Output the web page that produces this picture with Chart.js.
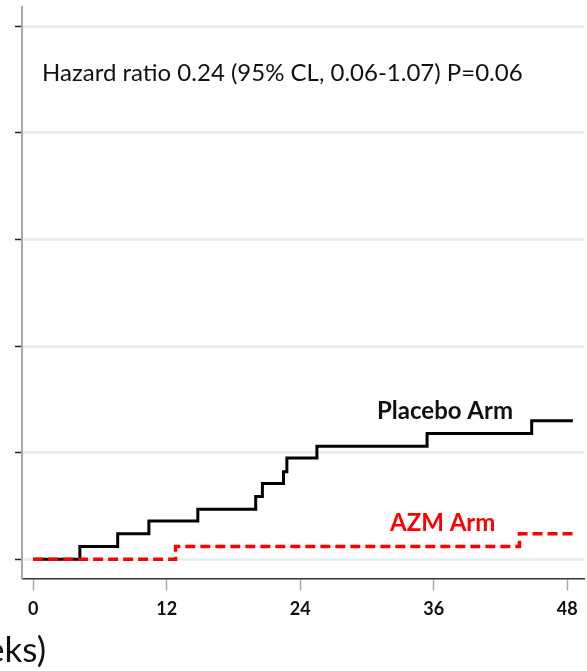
<!DOCTYPE html>
<html>
<head>
<meta charset="utf-8">
<script src="https://cdn.jsdelivr.net/npm/chart.js@4"></script>
<style>
  html, body { margin: 0; padding: 0; background: #fff; }
  canvas { display: block; }
</style>
</head>
<body>
<canvas id="kmChart" width="587" height="671"></canvas>
<script>
// weeks where each arm's curve steps up, and the cumulative proportion after the step
const placeboWeeks = [0, 4.2, 7.6, 10.4, 14.8, 20.0, 20.6, 22.5, 22.8, 25.5, 35.4, 44.8, 48.5];
const placeboRisk = [0, 0.012, 0.024, 0.036, 0.047, 0.059, 0.071, 0.082, 0.095, 0.106, 0.118, 0.130, 0.130];
const azmWeeks = [0, 12.8, 43.7, 48.5];
const azmRisk = [0, 0.012, 0.024, 0.024];
const xTicks = [0, 12, 24, 36, 48];
const yTicks = [0, 0.1, 0.2, 0.3, 0.4, 0.5];

const toPoints = (xs, ys) => xs.map((x, i) => ({ x: x, y: ys[i] }));

// text labels drawn on top of the plot
const labelsPlugin = {
  id: 'labels',
  afterDraw(chart) {
    const ctx = chart.ctx;
    ctx.save();
    ctx.textAlign = 'left';
    ctx.textBaseline = 'alphabetic';
    ctx.fillStyle = '#111';
    ctx.font = '24px Lato';
    ctx.fillText('Hazard ratio 0.24 (95% CL, 0.06-1.07) P=0.06', 42, 81);
    ctx.font = 'bold 24px Lato';
    ctx.fillText('Placebo Arm', 377, 419);
    ctx.fillStyle = '#ff0000';
    ctx.fillText('AZM Arm', 390, 531);
    // axis title, mostly cut off by the left edge
    ctx.fillStyle = '#111';
    ctx.font = '35px Lato';
    ctx.textAlign = 'right';
    ctx.fillText('Time (weeks)', 46, 662);
    ctx.restore();
  }
};

const ctx = document.getElementById('kmChart').getContext('2d');
new Chart(ctx, {
  type: 'line',
  data: {
    datasets: [{
      label: 'AZM Arm',
      data: toPoints(azmWeeks, azmRisk),
      borderColor: '#ff0000',
      borderWidth: 3.5,
      borderDash: [10, 5],
      stepped: true,
      pointRadius: 0,
      fill: false,
      order: 0
    }, {
      label: 'Placebo Arm',
      data: toPoints(placeboWeeks, placeboRisk),
      borderColor: '#000000',
      borderWidth: 3,
      stepped: true,
      pointRadius: 0,
      fill: false,
      order: 1
    }]
  },
  options: {
    responsive: false,
    animation: false,
    devicePixelRatio: 1,
    layout: { padding: { left: 15, top: 7, right: 3, bottom: 43 } },
    plugins: {
      legend: { display: false },
      tooltip: { enabled: false }
    },
    scales: {
      x: {
        type: 'linear',
        min: -1,
        max: 49.5,
        afterBuildTicks: (scale) => { scale.ticks = xTicks.map(v => ({ value: v })); },
        grid: {
          drawOnChartArea: false,
          drawTicks: true,
          tickLength: 12,
          tickColor: '#a8a8a8',
          tickWidth: 1.5
        },
        border: { color: '#333', width: 1.5 },
        ticks: {
          padding: 8,
          color: '#111',
          font: { family: 'Lato', size: 18, weight: 'bold' },
          maxRotation: 0
        }
      },
      y: {
        type: 'linear',
        min: -0.0179,
        max: 0.5179,
        afterBuildTicks: (scale) => { scale.ticks = yTicks.map(v => ({ value: v })); },
        grid: {
          color: '#e8f0f1',
          lineWidth: 3,
          drawTicks: true,
          tickLength: 7,
          tickColor: '#222',
          tickWidth: 1.5
        },
        border: { color: '#a8a8a8', width: 2 },
        ticks: { display: false }
      }
    }
  },
  plugins: [labelsPlugin]
});
</script>
</body>
</html>
